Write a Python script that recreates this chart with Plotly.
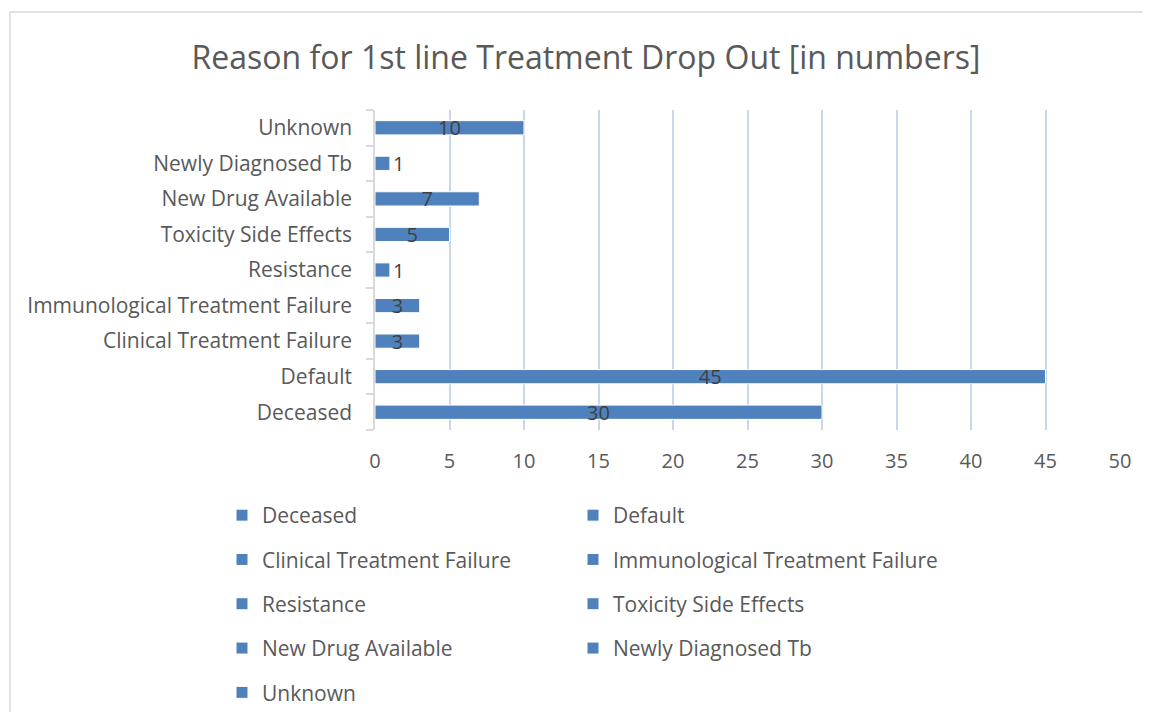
import plotly.graph_objects as go

categories = [
    "Deceased",
    "Default",
    "Clinical Treatment Failure",
    "Immunological Treatment Failure",
    "Resistance",
    "Toxicity Side Effects",
    "New Drug Available",
    "Newly Diagnosed Tb",
    "Unknown",
]
values = [30, 45, 3, 3, 1, 5, 7, 1, 10]
x_ticks = [0, 5, 10, 15, 20, 25, 30, 35, 40, 45, 50]

BAR_COLOR = "#4f81bd"
TEXT_GRAY = "#595959"
LABEL_DARK = "#404040"
FONT = "Open Sans"

fig = go.Figure()
for i, (cat, val) in enumerate(zip(categories, values)):
    fig.add_trace(go.Bar(
        y=[cat], x=[val], orientation="h", name=cat,
        width=0.4,
        marker=dict(color=BAR_COLOR, line=dict(color="white", width=1)),
        text=[str(val)],
        textposition="outside" if val < 2 else "inside",
        insidetextanchor="middle",
        textangle=0,
        constraintext="none",
        cliponaxis=False,
        textfont=dict(family=FONT, size=20, color=LABEL_DARK),
        legend="legend" if i % 2 == 0 else "legend2",
        legendgroup=cat,
        hoverinfo="x+y",
    ))

# page body has an 8px margin; the figure is sized to fit the window without scrollbars
OFF = 8
W, H = 1151 - 2 * OFF, 720 - 2 * OFF
L = 375 - OFF
T = 110 - OFF
pw, ph = 745, 320
R = W - L - pw
B = H - T - ph

def px2paper_x(px):
    return (px - OFF - L) / pw

def py2paper_y(py):
    return (T + ph - (py - OFF)) / ph

legend_common = dict(
    orientation="v",
    font=dict(family=FONT, size=21, color=TEXT_GRAY),
    tracegroupgap=14,
    xref="container", yref="container",
    xanchor="left", yanchor="top",
    bgcolor="rgba(0,0,0,0)",
)

border = dict(color="#d9d9d9", width=1.5)

fig.update_layout(
    width=W, height=H,
    margin=dict(l=L, r=R, t=T, b=B, autoexpand=False),
    paper_bgcolor="white", plot_bgcolor="white",
    barmode="overlay",
    title=dict(
        text="Reason for 1st line Treatment Drop Out [in numbers]",
        font=dict(family=FONT, size=32, color=TEXT_GRAY),
        x=(586 - OFF) / W, xanchor="center", xref="container",
        y=1 - (58 - OFF) / H, yanchor="middle", yref="container",
    ),
    xaxis=dict(
        range=[0, 50],
        tickvals=x_ticks,
        ticktext=[str(t) for t in x_ticks],
        tickangle=0,
        showgrid=True, gridcolor="#c9d7eb", gridwidth=1.5,
        zeroline=False, showline=False, ticks="",
        tickfont=dict(family=FONT, size=20, color=TEXT_GRAY),
        ticklabelstandoff=17,
        automargin=False,
        fixedrange=True,
    ),
    yaxis=dict(
        type="category",
        categoryorder="array", categoryarray=categories,
        showline=True, linecolor="#d9d9d9", linewidth=1.5,
        ticks="outside", tickson="boundaries", ticklen=7, tickcolor="#d9d9d9",
        tickwidth=1.5,
        showgrid=False,
        tickfont=dict(family=FONT, size=21, color=TEXT_GRAY),
        ticklabelstandoff=17,
        automargin=False,
        fixedrange=True,
    ),
    legend=dict(legend_common, x=(262 - 40 - OFF) / W, y=1 - (495 - OFF) / H),
    legend2=dict(legend_common, x=(613 - 40 - OFF) / W, y=1 - (495 - OFF) / H),
    shapes=[
        dict(type="line", xref="paper", yref="paper",
             x0=px2paper_x(10), x1=px2paper_x(1160),
             y0=py2paper_y(12), y1=py2paper_y(12), line=border),
        dict(type="line", xref="paper", yref="paper",
             x0=px2paper_x(10), x1=px2paper_x(10),
             y0=py2paper_y(12), y1=py2paper_y(730), line=border),
    ],
)

fig.write_html("out.html")
